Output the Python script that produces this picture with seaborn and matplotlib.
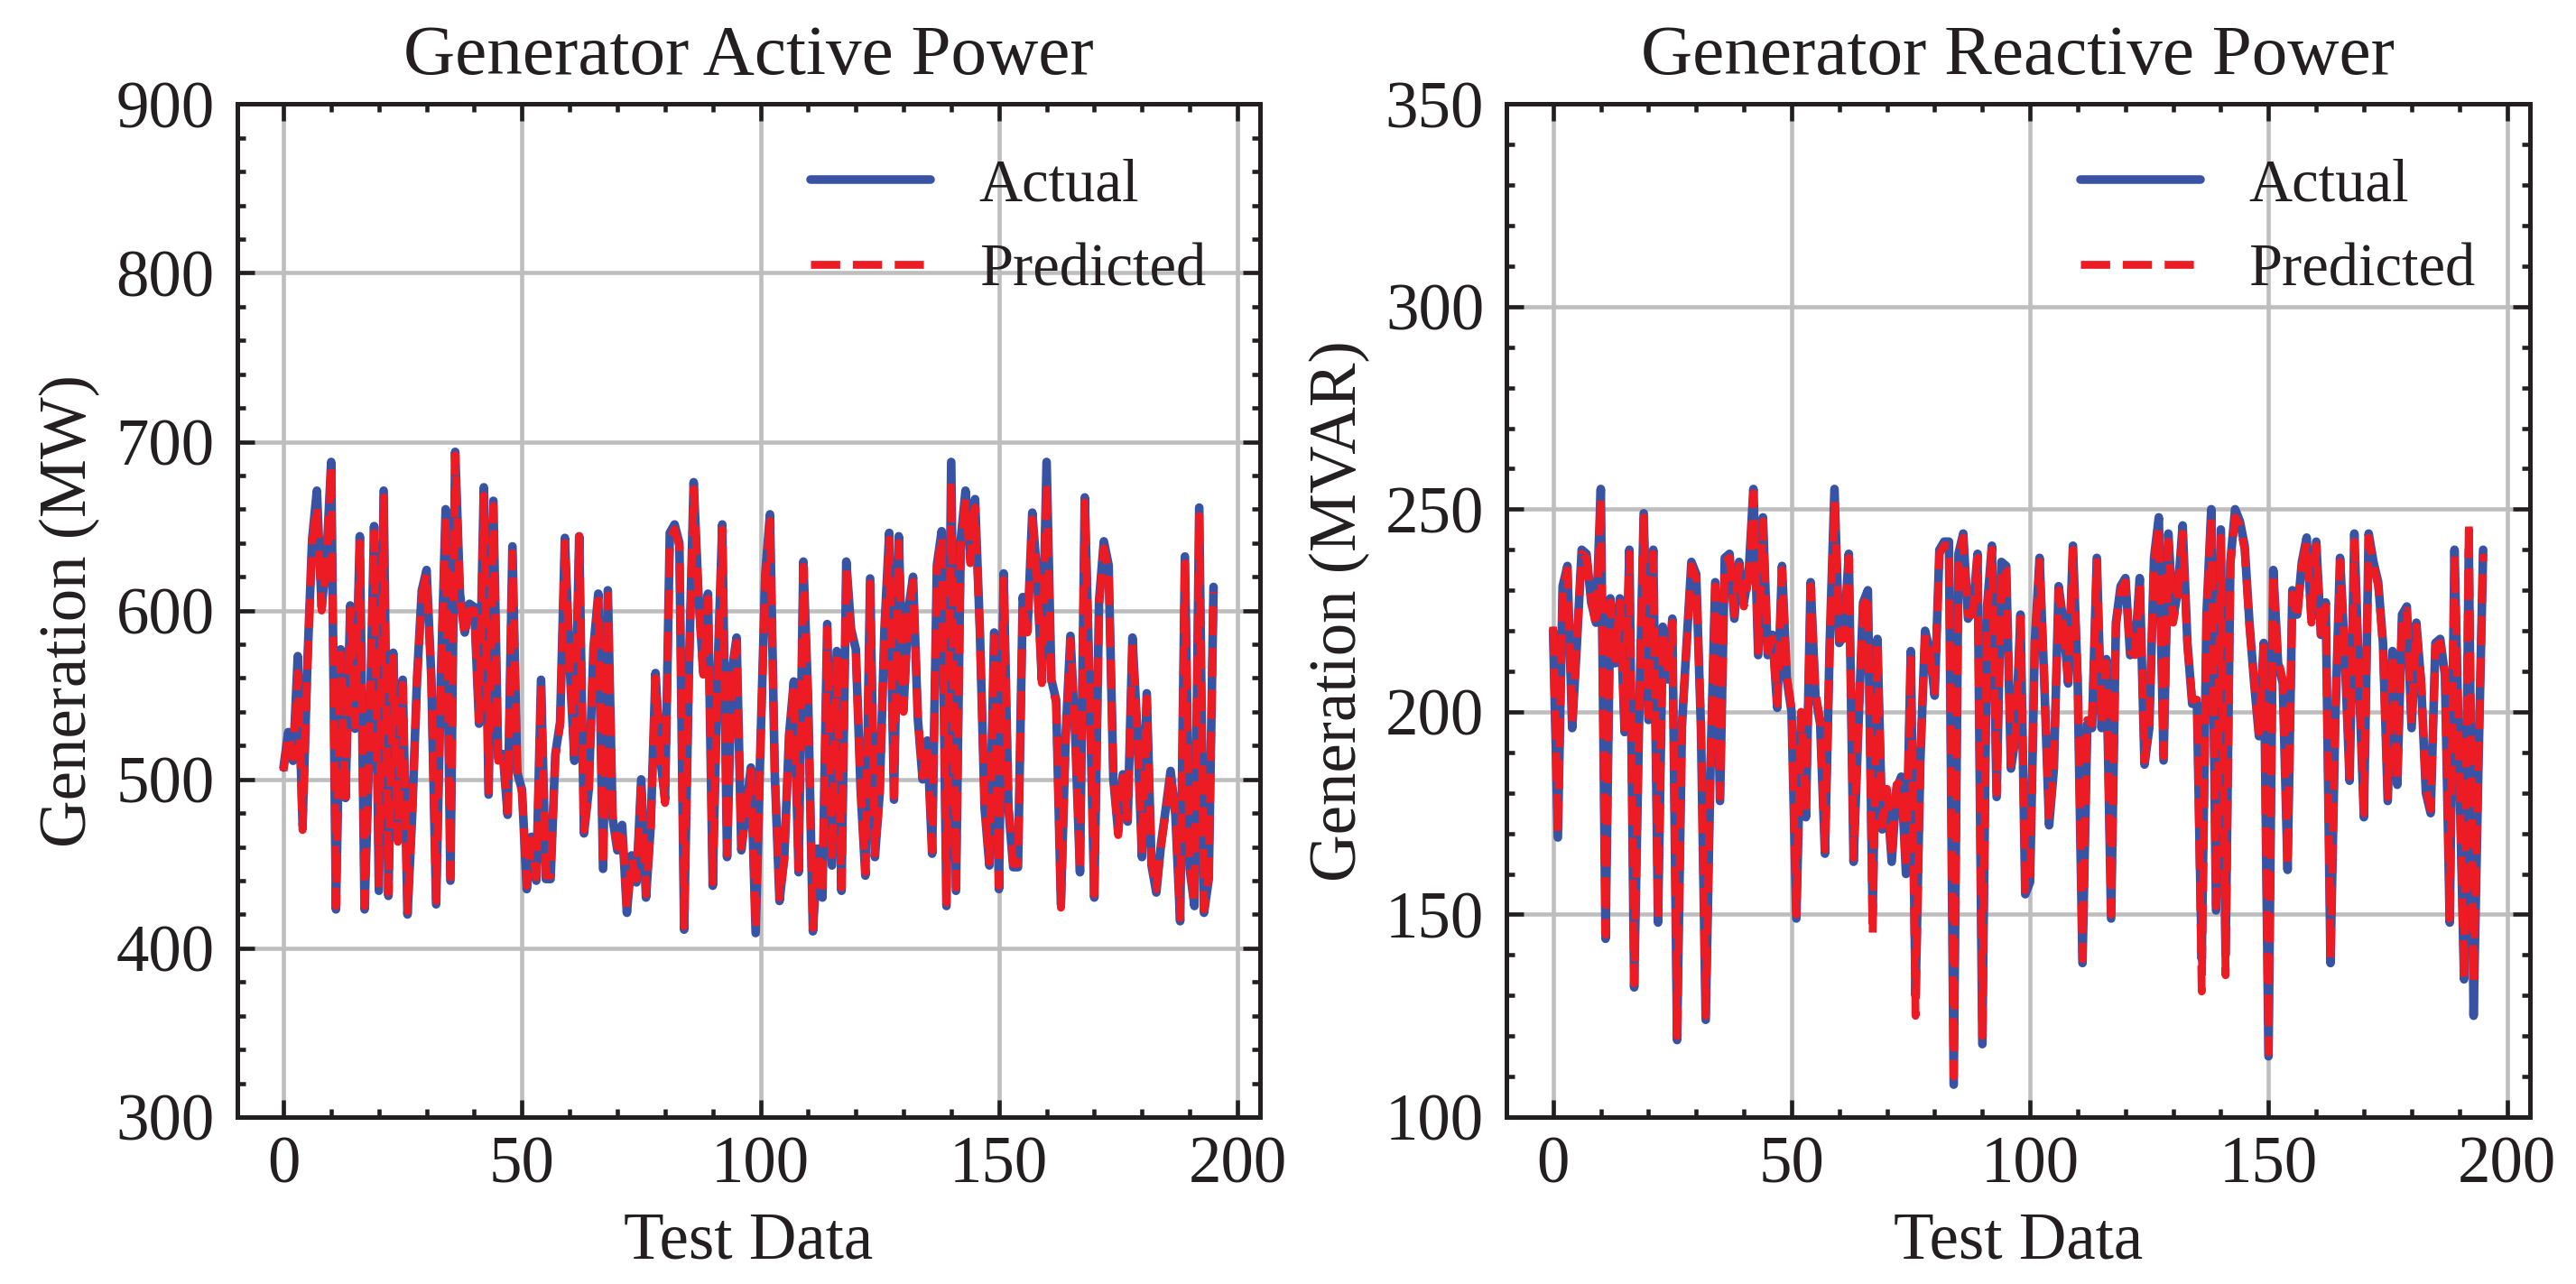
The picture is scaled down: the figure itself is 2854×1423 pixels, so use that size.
import numpy as np
import matplotlib
matplotlib.use("Agg")
import matplotlib.pyplot as plt
import seaborn as sns
from matplotlib.ticker import MultipleLocator

# ==============================
# Data
# ==============================

active_actual = [
    507, 528, 511, 573, 473, 568, 642, 671, 602, 630,
    688, 423, 577, 489, 603, 530, 644, 423, 520, 650,
    434, 671, 431, 575, 465, 559, 420, 480, 560, 612,
    624, 560, 426, 560, 660, 440, 694, 610, 587, 604,
    602, 533, 673, 491, 665, 513, 515, 479, 638, 504,
    494, 435, 466, 440, 559, 441, 441, 515, 534, 643,
    568, 511, 644, 468, 494, 578, 610, 447, 612, 477,
    458, 473, 421, 455, 439, 500, 430, 473, 563, 513,
    488, 646, 651, 640, 411, 564, 676, 610, 564, 610,
    437, 562, 651, 454, 564, 584, 458, 483, 507, 409,
    520, 621, 657, 504, 428, 454, 526, 558, 445, 629,
    547, 410, 459, 430, 592, 449, 576, 434, 629, 589,
    577, 494, 443, 619, 454, 492, 589, 646, 488, 644,
    542, 600, 620, 536, 500, 523, 456, 627, 647, 425,
    688, 434, 642, 671, 631, 666, 589, 483, 449, 587,
    435, 622, 483, 448, 448, 608, 589, 658, 621, 559,
    688, 559, 547, 426, 526, 585, 526, 445, 667, 557,
    430, 606, 641, 627, 500, 469, 503, 475, 584, 530,
    454, 551, 449, 433, 462, 483, 505, 479, 416, 632,
    447, 425, 661, 421, 441, 614,
]

active_pred = [
    505, 526, 513, 563, 470, 566, 640, 662, 600, 628,
    686, 425, 574, 487, 600, 532, 640, 425, 522, 646,
    436, 667, 433, 572, 463, 556, 422, 482, 558, 609,
    622, 558, 428, 558, 656, 442, 692, 607, 585, 600,
    600, 535, 668, 493, 662, 511, 517, 481, 634, 506,
    492, 437, 464, 442, 556, 443, 443, 513, 532, 640,
    566, 513, 644, 470, 492, 575, 606, 449, 609, 479,
    460, 471, 423, 453, 441, 498, 432, 471, 560, 515,
    486, 642, 648, 638, 413, 562, 672, 608, 562, 607,
    439, 560, 648, 456, 562, 581, 460, 481, 505, 411,
    518, 618, 653, 506, 430, 452, 524, 556, 447, 626,
    545, 412, 457, 432, 589, 451, 573, 436, 626, 586,
    575, 496, 445, 616, 456, 490, 586, 642, 490, 640,
    540, 597, 617, 538, 502, 521, 458, 624, 644, 427,
    676, 436, 638, 666, 628, 661, 587, 485, 451, 584,
    437, 618, 485, 450, 450, 604, 587, 654, 618, 557,
    676, 557, 545, 424, 524, 582, 528, 447, 664, 555,
    432, 602, 637, 624, 502, 467, 501, 477, 580, 528,
    456, 548, 451, 435, 460, 481, 503, 481, 418, 628,
    449, 427, 656, 423, 443, 611,
]

reactive_actual = [
    220, 169, 231, 236, 196, 217, 240, 239, 227, 222,
    255, 144, 228, 212, 228, 195, 240, 132, 196, 249,
    198, 240, 148, 221, 208, 223, 119, 196, 217, 237,
    234, 196, 124, 186, 232, 178, 238, 239, 223, 237,
    227, 234, 255, 214, 248, 214, 219, 201, 236, 208,
    200, 149, 199, 174, 232, 204, 197, 165, 217, 255,
    217, 219, 239, 163, 196, 227, 230, 150, 218, 171,
    180, 163, 181, 184, 160, 215, 130, 188, 220, 215,
    204, 240, 242, 242, 108, 239, 244, 223, 225, 239,
    118, 226, 241, 179, 237, 236, 186, 194, 224, 155,
    158, 217, 238, 207, 172, 186, 231, 222, 207, 241,
    207, 138, 197, 196, 238, 196, 213, 149, 222, 231,
    233, 214, 215, 233, 187, 196, 238, 248, 188, 244,
    223, 230, 246, 217, 202, 202, 139, 224, 250, 151,
    245, 140, 237, 250, 247, 241, 222, 207, 194, 217,
    115, 235, 212, 207, 161, 230, 224, 237, 243, 223,
    242, 219, 227, 138, 198, 238, 214, 183, 244, 207,
    174, 244, 237, 232, 217, 178, 215, 182, 224, 226,
    196, 222, 207, 180, 175, 217, 218, 209, 148, 240,
    186, 134, 240, 125, 186, 240,
]

reactive_pred = [
    221, 170, 230, 235, 197, 218, 239, 238, 228, 221,
    253, 145, 227, 213, 227, 196, 239, 133, 197, 248,
    199, 239, 149, 220, 209, 222, 120, 197, 216, 236,
    233, 197, 125, 187, 231, 179, 237, 238, 224, 236,
    226, 233, 254, 215, 247, 215, 218, 202, 235, 209,
    201, 150, 200, 175, 231, 205, 198, 166, 216, 252,
    218, 218, 238, 164, 197, 226, 229, 145, 217, 172,
    181, 164, 182, 183, 161, 214, 125, 189, 219, 214,
    205, 239, 241, 241, 110, 238, 243, 224, 224, 238,
    120, 225, 240, 180, 236, 235, 187, 195, 223, 156,
    159, 216, 237, 208, 173, 187, 230, 221, 208, 240,
    208, 139, 198, 197, 237, 197, 212, 150, 221, 230,
    232, 215, 214, 232, 188, 197, 237, 246, 189, 242,
    222, 229, 244, 216, 203, 203, 131, 223, 248, 152,
    243, 135, 236, 248, 246, 240, 221, 208, 195, 216,
    116, 234, 213, 208, 162, 229, 223, 236, 242, 222,
    241, 218, 226, 139, 199, 237, 215, 184, 242, 208,
    175, 243, 236, 231, 216, 179, 214, 183, 223, 225,
    197, 221, 208, 181, 176, 216, 217, 210, 149, 239,
    187, 134, 247, 133, 187, 239,
]

titles = ["Generator Active Power", "Generator Reactive Power"]
ylabels = ["Generation (MW)", "Generation (MVAR)"]
ylims = [(300, 900), (100, 350)]
y_major = [100, 50]
y_minor = [20, 10]

# ==============================
# Style
# ==============================

sns.set_style("ticks")
plt.rcParams["font.family"] = ["Liberation Serif", "DejaVu Serif"]
plt.rcParams.update({
    "xtick.direction": "in",
    "ytick.direction": "in",
    "xtick.top": True,
    "ytick.right": True,
    "xtick.minor.visible": True,
    "ytick.minor.visible": True,
    "xtick.major.size": 4.5,
    "ytick.major.size": 4.5,
    "xtick.minor.size": 2.2,
    "ytick.minor.size": 2.2,
    "xtick.major.width": 1.1,
    "ytick.major.width": 1.1,
    "xtick.minor.width": 1.1,
    "ytick.minor.width": 1.1,
    "xtick.major.pad": 5,
    "ytick.major.pad": 6,
    "axes.linewidth": 1.2,
    "axes.edgecolor": "#231f20",
    "xtick.color": "#231f20",
    "ytick.color": "#231f20",
    "text.color": "#231f20",
    "axes.labelcolor": "#231f20",
})

blue = "#3953a4"
red = "#ed1c24"

fig, axes = plt.subplots(1, 2, figsize=(2854 / 300, 1423 / 300), dpi=300)
fig.subplots_adjust(left=0.092, right=0.982, bottom=0.130, top=0.919, wspace=0.241)

series = [(active_actual, active_pred), (reactive_actual, reactive_pred)]

for i, ax in enumerate(axes):
    actual, pred = series[i]
    x = np.arange(len(actual))
    sns.lineplot(x=x, y=actual, ax=ax, color=blue, linewidth=2.3, label="Actual")
    sns.lineplot(x=x, y=pred, ax=ax, color=red, linewidth=2.1, linestyle="--", label="Predicted")

    ax.set_ylim(*ylims[i])
    ax.set_xticks([0, 50, 100, 150, 200])
    ax.xaxis.set_minor_locator(MultipleLocator(10))
    ax.yaxis.set_major_locator(MultipleLocator(y_major[i]))
    ax.yaxis.set_minor_locator(MultipleLocator(y_minor[i]))
    ax.grid(True, which="major", color="#bebebe", linewidth=1.1)
    ax.set_axisbelow(True)

    ax.set_title(titles[i], fontsize=19, pad=8)
    ax.set_xlabel("Test Data", fontsize=17.5)
    ax.set_ylabel(ylabels[i], fontsize=17.5)
    ax.tick_params(axis="both", which="major", labelsize=17.5)
    ax.legend(loc="upper right", frameon=False, fontsize=16)

fig.savefig("out.png", dpi=300)
